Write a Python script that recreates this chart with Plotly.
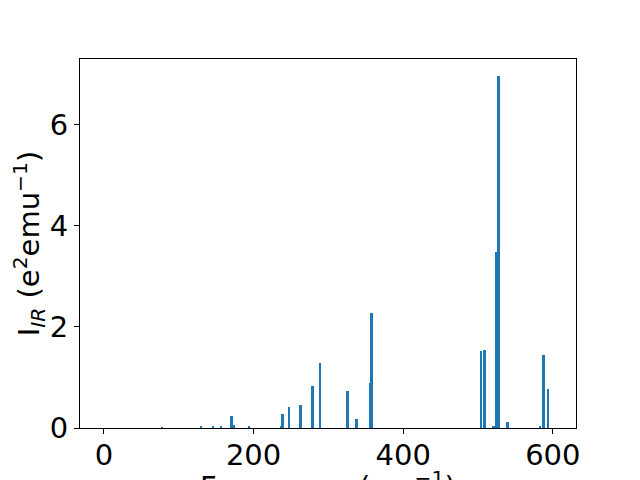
import plotly.graph_objects as go

freqs = [78, 130, 146, 157, 171, 174, 194, 237, 239, 248, 263, 279, 289, 326, 338,
         356, 358, 504, 509, 521, 525, 528, 540, 583, 588, 594]
intens = [0.01, 0.02, 0.02, 0.02, 0.24, 0.06, 0.04, 0.03, 0.28, 0.42, 0.46, 0.83, 1.29,
          0.73, 0.18, 0.89, 2.28, 1.52, 1.54, 0.02, 3.49, 6.97, 0.12, 0.02, 1.45, 0.77]
x_ticks = [0, 200, 400, 600]
y_ticks = [0, 2, 4, 6]

fig = go.Figure(go.Bar(x=freqs, y=intens, width=2.6,
                       marker=dict(color="#1f77b4", line=dict(width=0))))

font = dict(family="DejaVu Sans", size=29, color="black")
fig.update_layout(
    width=640, height=480,
    margin=dict(l=72, r=72, t=51, b=60, autoexpand=False),
    plot_bgcolor="white", paper_bgcolor="white",
    font=font, showlegend=False,
    bargap=0,
)
fig.update_xaxes(
    range=[-32, 631], tickvals=x_ticks, ticks="outside", ticklen=5, tickwidth=1,
    tickcolor="black", showline=True, linecolor="black", linewidth=1, mirror=True,
    showgrid=False, zeroline=False, tickfont=font, ticklabelstandoff=-4,
    automargin=False,
)
fig.update_yaxes(
    range=[0, 7.3], tickvals=y_ticks, ticks="outside", ticklen=5, tickwidth=1,
    tickcolor="black", showline=True, linecolor="black", linewidth=1, mirror=True,
    showgrid=False, zeroline=False, tickfont=font,
    title=dict(text="I<sub><i>IR</i></sub> (e<sup>2</sup>emu<sup>−1</sup>)", font=font, standoff=6),
    automargin=False,
)
fig.add_annotation(
    text="Frequency (cm<sup>−1</sup>)", xref="paper", yref="paper",
    x=0.5, y=-0.098, xanchor="center", yanchor="top", showarrow=False, font=font,
)
fig.write_html("out.html")
